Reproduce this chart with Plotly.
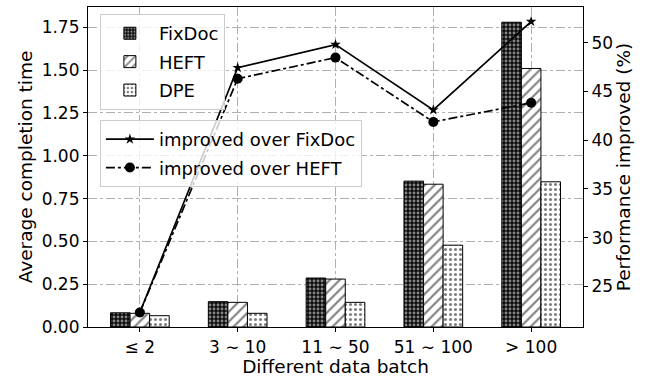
import plotly.graph_objects as go

# Data batch size groups
batches = ["≤ 2", "3 ∼ 10", "11 ∼ 50", "51 ∼ 100", "> 100"]

# Average completion time per scheduler
fixdoc_time = [0.083, 0.148, 0.286, 0.852, 1.78]
heft_time = [0.080, 0.144, 0.280, 0.834, 1.51]
dpe_time = [0.066, 0.080, 0.144, 0.478, 0.848]

# Performance improvement of DPE (%)
improved_fixdoc = [22.33, 47.43, 49.8, 43.1, 52.16]
improved_heft = [22.33, 46.3, 48.46, 41.87, 43.83]

xpos = list(range(len(batches)))
FONT = "DejaVu Sans, Arial, sans-serif"
TICK = 17
LABEL = 18.5

fig = go.Figure()

bar_styles = [
    ("FixDoc", fixdoc_time, dict(shape=".", bgcolor="#0d0d0d", fgcolor="white", size=4, solidity=0.4)),
    ("HEFT", heft_time, dict(shape="/", bgcolor="white", fgcolor="black", size=7, solidity=0.3)),
    ("DPE", dpe_time, dict(shape=".", bgcolor="white", fgcolor="black", size=5, solidity=0.3)),
]
for i, (name, vals, pat) in enumerate(bar_styles):
    fig.add_trace(go.Bar(
        x=xpos, y=vals, name=name, legend="legend", legendgroup=f"b{i}",
        marker=dict(color="white", line=dict(color="black", width=1), pattern=pat),
    ))

fig.add_trace(go.Scatter(
    x=xpos, y=improved_fixdoc, name="improved over FixDoc", yaxis="y2",
    legend="legend2", legendgroup="l0", mode="lines+markers",
    line=dict(color="black", width=1.7),
    marker=dict(symbol="star", size=8, color="black"),
))
fig.add_trace(go.Scatter(
    x=xpos, y=improved_heft, name="improved over HEFT", yaxis="y2",
    legend="legend2", legendgroup="l1", mode="lines+markers",
    line=dict(color="black", width=1.7, dash="dashdot"),
    marker=dict(symbol="circle", size=10, color="black"),
))

grid = dict(showgrid=True, gridcolor="#b0b0b0", gridwidth=1, griddash="dashdot")
axis_common = dict(showline=True, linecolor="black", linewidth=1.2, ticks="outside",
                   ticklen=4, tickcolor="black", tickfont=dict(size=TICK, color="black"),
                   zeroline=False)

legend_style = dict(bgcolor="rgba(255,255,255,0.8)", bordercolor="#cccccc", borderwidth=1,
                    font=dict(size=18, color="black", family=FONT), itemwidth=48,
                    xanchor="left", yanchor="top", traceorder="grouped", tracegroupgap=2)

fig.update_layout(
    width=650, height=382,
    margin=dict(l=88, r=67, t=7, b=55),
    paper_bgcolor="white", plot_bgcolor="white",
    font=dict(family=FONT, color="black"),
    barmode="group", bargap=0.4, bargroupgap=0,
    xaxis=dict(range=[-0.53, 4.53], tickvals=xpos, ticktext=batches, mirror=True,
               title=dict(text="Different data batch", font=dict(size=LABEL), standoff=2),
               **grid, **axis_common),
    yaxis=dict(range=[0, 1.869], tickvals=[0, 0.25, 0.5, 0.75, 1.0, 1.25, 1.5, 1.75],
               tickformat=".2f", mirror=True,
               title=dict(text="Average completion time", font=dict(size=LABEL), standoff=4),
               **grid, **axis_common),
    yaxis2=dict(range=[20.84, 53.65], tickvals=[25, 30, 35, 40, 45, 50], overlaying="y",
                side="right", showgrid=False,
                title=dict(text="Performance improved (%)", font=dict(size=LABEL), standoff=4),
                **axis_common),
    legend=dict(x=0.024, y=0.978, **legend_style),
    legend2=dict(x=0.024, y=0.647, **legend_style),
)

fig.write_html("out.html")
